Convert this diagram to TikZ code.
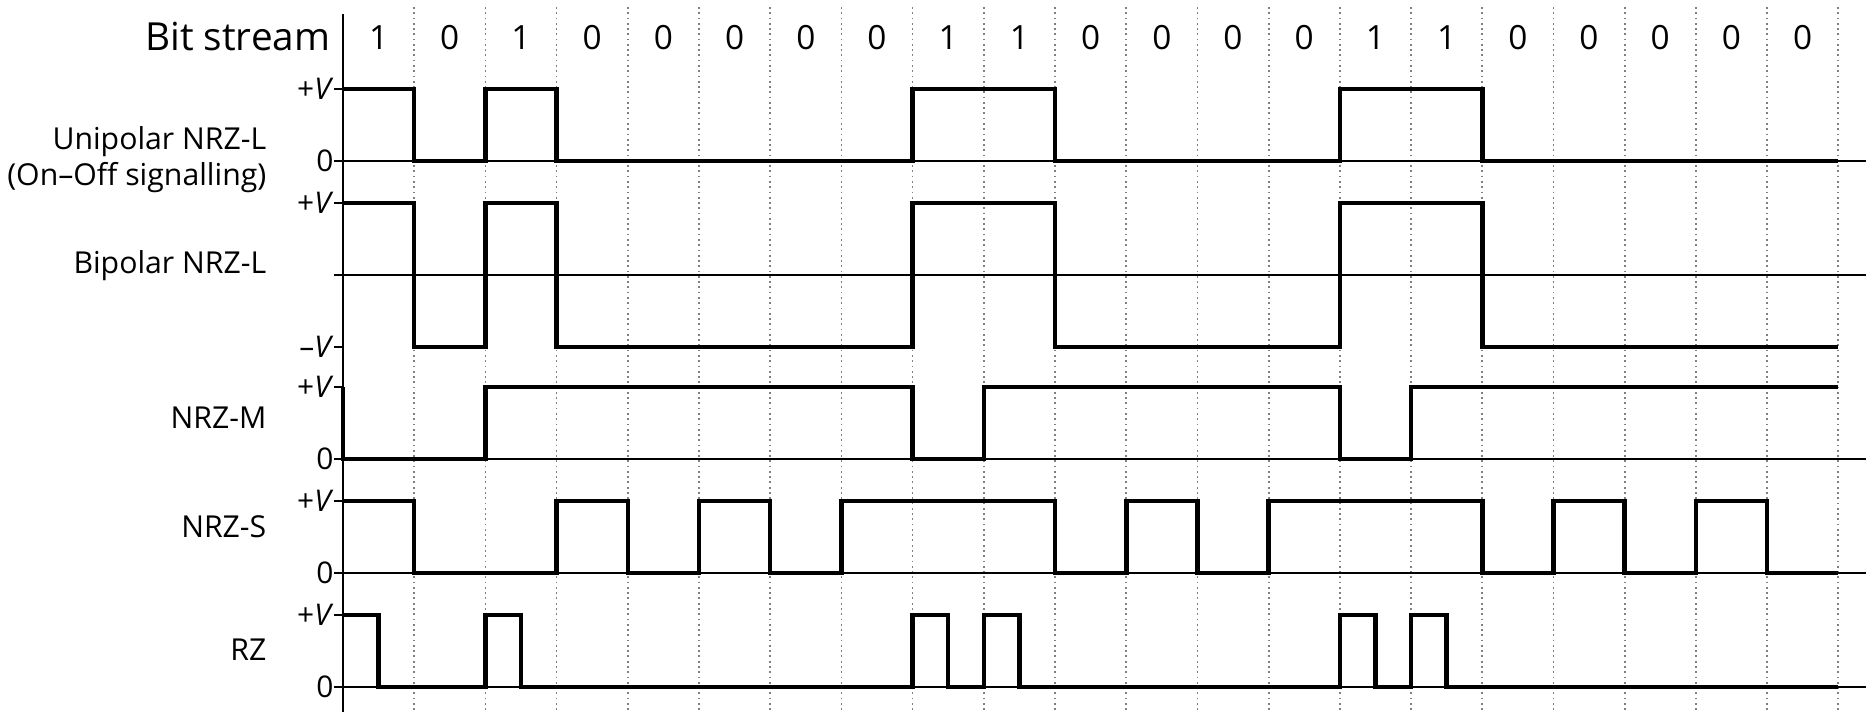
\documentclass[tikz,border=0pt]{standalone}
\usepackage{fontspec}
\setmainfont{Open Sans}
\usepackage{tikz}
\usetikzlibrary{positioning}

\begin{document}
\begin{tikzpicture}[x=0.712cm, y=1cm,
    sig/.style={line width=1.3pt, line join=miter},
    base/.style={line width=0.6pt},
    gridline/.style={densely dotted, gray, line width=0.5pt},
    axisline/.style={line width=0.8pt},
    lvl/.style={anchor=east, inner sep=0.5pt, font=\fontsize{8.5}{10}\selectfont},
    rowlabel/.style={anchor=east, align=right, inner sep=0pt, font=\fontsize{8.6}{10.3}\selectfont},
    bit/.style={anchor=base, inner sep=0pt, font=\fontsize{9.5}{11}\selectfont}
]
\useasboundingbox (-4.817,0) rectangle (21.39,7.12);

% --- bit stream header and grid ---
\node[anchor=base east, inner sep=0pt, font=\fontsize{11}{13}\selectfont] (title) at (-0.17,6.62) {Bit stream};
\foreach \b [count=\i from 0] in {1,0,1,0,0,0,0,0,1,1,0,0,0,0,1,1,0,0,0,0,0}
  \node[bit] (b\i) at (\i+0.5,6.63) {\b};
\foreach \i in {1,...,21}
  \draw[gridline] (\i,7.05) -- (\i,0);

% --- unipolar NRZ-L ---
\begin{scope}[yshift=5.51cm, y=0.72cm]
  \draw[base] (-0.12,0) -- (21.4,0);
  \draw[base] (-0.12,1) -- (0,1);
  \node[lvl] (uniV) at (-0.1,1) {+\textit{V}};
  \node[lvl] (uni0) at (-0.1,0) {0};
  \draw[sig] (0,1) -- (1,1) -- (1,0) -- (2,0) -- (2,1) -- (3,1) -- (3,0) -- (8,0) -- (8,1)
    -- (10,1) -- (10,0) -- (14,0) -- (14,1) -- (16,1) -- (16,0) -- (21,0);
\end{scope}
\node[rowlabel] (uni) at (-1.067,5.52) {Unipolar NRZ-L\\(On–Off signalling)};

% --- bipolar NRZ-L ---
\begin{scope}[yshift=4.37cm, y=0.72cm]
  \draw[base] (-0.12,0) -- (21.4,0);
  \draw[base] (-0.12,1) -- (0,1);
  \draw[base] (-0.12,-1) -- (0,-1);
  \node[lvl] (bipV) at (-0.1,1) {+\textit{V}};
  \node[lvl] (bipM) at (-0.1,-1) {–\textit{V}};
  \draw[sig] (0,1) -- (1,1) -- (1,-1) -- (2,-1) -- (2,1) -- (3,1) -- (3,-1) -- (8,-1) -- (8,1)
    -- (10,1) -- (10,-1) -- (14,-1) -- (14,1) -- (16,1) -- (16,-1) -- (21,-1);
\end{scope}
\node[rowlabel] (bip) at (-1.067,4.46) {Bipolar NRZ-L};

% --- NRZ-M ---
\begin{scope}[yshift=2.53cm, y=0.72cm]
  \draw[base] (-0.12,0) -- (21.4,0);
  \draw[base] (-0.12,1) -- (0,1);
  \node[lvl] (nrzmV) at (-0.1,1) {+\textit{V}};
  \node[lvl] (nrzm0) at (-0.1,0) {0};
  \draw[sig] (0,1) -- (0,0) -- (2,0) -- (2,1) -- (8,1) -- (8,0) -- (9,0) -- (9,1)
    -- (14,1) -- (14,0) -- (15,0) -- (15,1) -- (21,1);
\end{scope}
\node[rowlabel] (nrzm) at (-1.067,2.94) {NRZ-M};

% --- NRZ-S ---
\begin{scope}[yshift=1.39cm, y=0.72cm]
  \draw[base] (-0.12,0) -- (21.4,0);
  \draw[base] (-0.12,1) -- (0,1);
  \node[lvl] (nrzsV) at (-0.1,1) {+\textit{V}};
  \node[lvl] (nrzs0) at (-0.1,0) {0};
  \draw[sig] (0,1) -- (1,1) -- (1,0) -- (3,0) -- (3,1) -- (4,1) -- (4,0) -- (5,0) -- (5,1)
    -- (6,1) -- (6,0) -- (7,0) -- (7,1) -- (10,1) -- (10,0) -- (11,0) -- (11,1) -- (12,1)
    -- (12,0) -- (13,0) -- (13,1) -- (16,1) -- (16,0) -- (17,0) -- (17,1) -- (18,1) -- (18,0)
    -- (19,0) -- (19,1) -- (20,1) -- (20,0) -- (21,0);
\end{scope}
\node[rowlabel] (nrzs) at (-1.067,1.85) {NRZ-S};

% --- RZ ---
\begin{scope}[yshift=0.25cm, y=0.72cm]
  \draw[base] (-0.12,0) -- (21.4,0);
  \draw[base] (-0.12,1) -- (0,1);
  \node[lvl] (rzV) at (-0.1,1) {+\textit{V}};
  \node[lvl] (rz0) at (-0.1,0) {0};
  \draw[sig] (0,1) -- (0.5,1) -- (0.5,0) -- (2,0) -- (2,1) -- (2.5,1) -- (2.5,0) -- (8,0)
    -- (8,1) -- (8.5,1) -- (8.5,0) -- (9,0) -- (9,1) -- (9.5,1) -- (9.5,0) -- (14,0) -- (14,1)
    -- (14.5,1) -- (14.5,0) -- (15,0) -- (15,1) -- (15.5,1) -- (15.5,0) -- (21,0);
\end{scope}
\node[rowlabel] (rz) at (-1.067,0.62) {RZ};

% --- axis ---
\draw[axisline] (0,6.98) -- (0,0);

\end{tikzpicture}
\end{document}
